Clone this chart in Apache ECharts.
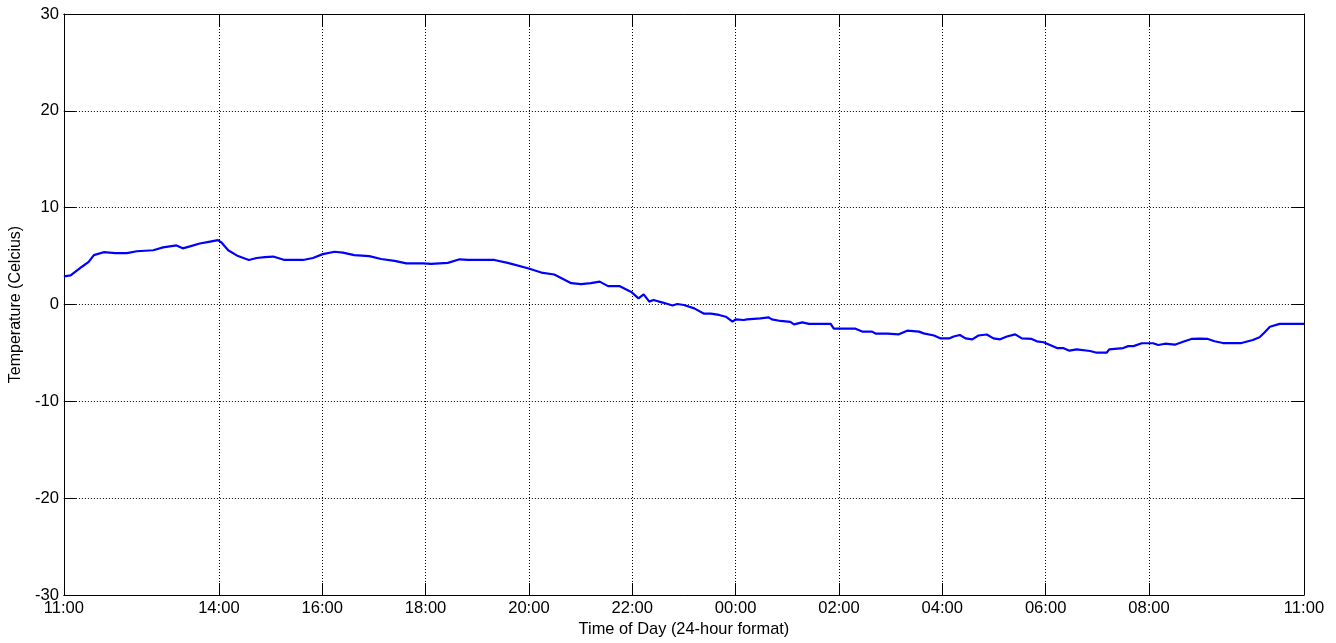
<!DOCTYPE html>
<html>
<head>
<meta charset="utf-8">
<script src="https://cdn.jsdelivr.net/npm/echarts@6/dist/echarts.min.js"></script>
<style>
html,body{margin:0;padding:0;background:#fff;}
#chart{width:1336px;height:643px;}
</style>
</head>
<body>
<div id="chart"></div>
<script>
// Hours elapsed since 11:00
const hours = [0.00,0.13,0.35,0.48,0.58,0.77,1.00,1.22,1.41,1.73,1.92,2.18,2.30,2.44,2.63,2.83,2.98,3.05,3.18,3.37,3.58,3.73,3.89,4.05,4.27,4.63,4.82,5.01,5.24,5.40,5.62,5.91,6.14,6.40,6.63,6.95,7.11,7.43,7.66,7.82,8.33,8.59,8.98,9.24,9.49,9.82,10.01,10.20,10.37,10.53,10.75,10.98,11.12,11.22,11.33,11.41,11.59,11.78,11.87,12.00,12.20,12.39,12.52,12.68,12.81,12.94,13.00,13.16,13.22,13.48,13.64,13.70,13.87,14.06,14.13,14.29,14.42,14.84,14.90,15.32,15.45,15.64,15.71,15.84,15.87,15.94,16.16,16.32,16.55,16.64,16.84,16.97,17.13,17.22,17.34,17.45,17.58,17.70,17.86,17.99,18.12,18.25,18.41,18.54,18.73,18.83,18.96,19.22,19.34,19.46,19.60,19.86,19.99,20.18,20.23,20.50,20.60,20.70,20.86,21.08,21.18,21.31,21.50,21.66,21.82,21.98,22.14,22.27,22.43,22.79,22.82,23.01,23.14,23.24,23.34,23.53,24.00];
const temperature = [2.9,3.0,3.9,4.4,5.1,5.4,5.3,5.3,5.5,5.6,5.9,6.1,5.8,6.0,6.3,6.5,6.65,6.4,5.6,5.0,4.6,4.8,4.9,4.95,4.6,4.6,4.8,5.2,5.45,5.35,5.1,5.0,4.7,4.5,4.25,4.25,4.2,4.3,4.67,4.6,4.6,4.3,3.74,3.3,3.1,2.2,2.1,2.2,2.36,1.9,1.9,1.3,0.64,1.05,0.3,0.46,0.2,-0.1,0.05,-0.05,-0.4,-0.95,-0.95,-1.08,-1.26,-1.78,-1.53,-1.6,-1.53,-1.43,-1.33,-1.53,-1.7,-1.8,-2.05,-1.85,-2.0,-2.0,-2.5,-2.5,-2.8,-2.8,-3.0,-3.0,-2.85,-3.0,-3.08,-2.7,-2.8,-2.98,-3.2,-3.5,-3.5,-3.3,-3.15,-3.5,-3.6,-3.2,-3.1,-3.5,-3.6,-3.3,-3.08,-3.5,-3.56,-3.8,-3.9,-4.5,-4.5,-4.77,-4.63,-4.8,-4.98,-4.98,-4.63,-4.5,-4.3,-4.3,-4.0,-4.0,-4.18,-4.05,-4.15,-3.84,-3.56,-3.53,-3.56,-3.8,-3.98,-3.98,-3.8,-3.67,-3.39,-2.87,-2.3,-2.0,-2.0];
// Tick positions (hours since 11:00) and their labels
const xTickHours = [0,3,5,7,9,11,13,15,17,19,21,24];
const xTickLabels = ["11:00","14:00","16:00","18:00","20:00","22:00","00:00","02:00","04:00","06:00","08:00","11:00"];
const yTicks = [-30,-20,-10,0,10,20,30];

const FONT = "'Liberation Sans', Arial, sans-serif";
const chart = echarts.init(document.getElementById('chart'), null, {renderer:'canvas'});
const seriesData = hours.map((h,i)=>[h, temperature[i]]);
const gridDot = {show:true, lineStyle:{color:'#000', width:1, type:[1,2]}};

const labelFor = v => {
  const i = xTickHours.indexOf(v);
  return i >= 0 ? xTickLabels[i] : '';
};

chart.setOption({
  animation:false,
  backgroundColor:'#fff',
  grid:{left:61, right:32, top:14, bottom:48, containLabel:false},
  xAxis:[{
    type:'value', min:0, max:24, position:'bottom',
    name:'Time of Day (24-hour format)', nameLocation:'middle', nameGap:24,
    nameTextStyle:{fontFamily:FONT, fontSize:16.4, color:'#000'},
    axisLine:{show:true, onZero:false, lineStyle:{color:'#000', width:1}},
    axisTick:{show:true, inside:true, length:12, customValues:xTickHours, lineStyle:{color:'#000'}},
    axisLabel:{show:true, customValues:xTickHours, formatter:labelFor, margin:5, fontFamily:FONT, fontSize:16.6, color:'#000', showMinLabel:true, showMaxLabel:true},
    splitLine:gridDot
  },{
    type:'value', min:0, max:24, position:'top',
    axisLine:{show:true, onZero:false, lineStyle:{color:'#000', width:1}},
    axisTick:{show:true, inside:true, length:12, customValues:xTickHours, lineStyle:{color:'#000'}},
    axisLabel:{show:false},
    splitLine:{show:false}
  }],
  yAxis:[{
    type:'value', min:-30, max:30, interval:10, position:'left',
    name:'Temperature (Celcius)', nameLocation:'middle', nameGap:35,
    nameTextStyle:{fontFamily:FONT, fontSize:16, color:'#000'},
    axisLine:{show:true, onZero:false, lineStyle:{color:'#000', width:1}},
    axisTick:{show:true, inside:true, length:12, lineStyle:{color:'#000'}},
    axisLabel:{show:true, margin:5, fontFamily:FONT, fontSize:16.6, color:'#000'},
    splitLine:gridDot
  },{
    type:'value', min:-30, max:30, interval:10, position:'right',
    axisLine:{show:true, onZero:false, lineStyle:{color:'#000', width:1}},
    axisTick:{show:true, inside:true, length:12, lineStyle:{color:'#000'}},
    axisLabel:{show:false},
    splitLine:{show:false}
  }],
  series:[{
    type:'line', xAxisIndex:0, yAxisIndex:0,
    data:seriesData, showSymbol:false, symbol:'none',
    lineStyle:{color:'#0000ff', width:2.2},
    itemStyle:{color:'#0000ff'}
  }]
});
</script>
</body>
</html>
